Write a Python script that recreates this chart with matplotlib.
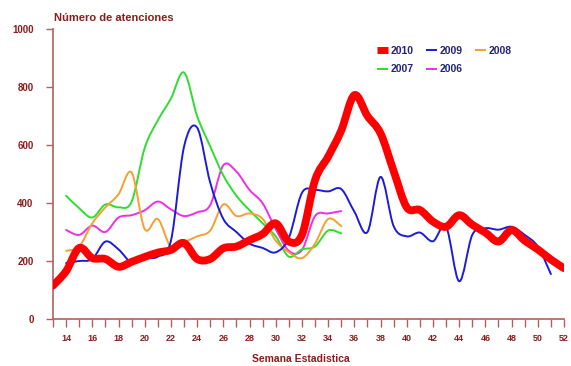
import matplotlib
matplotlib.use("Agg")
import matplotlib.pyplot as plt
from matplotlib.path import Path
from matplotlib.patches import PathPatch
from matplotlib.lines import Line2D

# Weekly attendance counts per season (epidemiological weeks)
weeks_2010 = list(range(13, 53))
cases_2010 = [115, 165, 245, 210, 207, 180, 197, 214, 229, 238,
              262, 207, 207, 244, 250, 272, 293, 330, 267, 290,
              479, 560, 650, 772, 700, 640, 510, 385, 376, 336,
              318, 358, 325, 298, 267, 307, 270, 240, 205, 175]

weeks_2009 = list(range(14, 52))
cases_2009 = [193, 200, 207, 267, 240, 195, 210, 215, 270, 594,
              660, 470, 345, 300, 260, 245, 230, 280, 435, 445,
              440, 448, 370, 300, 490, 320, 285, 298, 268, 318,
              130, 290, 313, 308, 318, 290, 250, 155]

weeks_old = list(range(14, 36))
cases_2008 = [235, 250, 330, 385, 430, 505, 310, 345, 248, 265,
              285, 305, 395, 355, 364, 345, 270, 230, 210, 260,
              345, 320]
cases_2007 = [425, 382, 350, 395, 385, 405, 590, 685, 760, 850,
              700, 595, 495, 425, 375, 330, 285, 215, 240, 250,
              305, 295]
cases_2006 = [307, 290, 322, 300, 350, 358, 375, 405, 378, 355,
              368, 393, 530, 508, 445, 399, 310, 235, 238, 355,
              364, 372]

y_ticks = [0, 200, 400, 600, 800, 1000]
x_tick_labels = list(range(14, 53, 2))

AXIS_RED = "#b06060"
TEXT_RED = "#8a1c1c"
LEGEND_BLUE = "#23237a"


def smooth_path(xs, ys):
    """Cubic Bezier path through the points (spreadsheet-style smoothing)."""
    pts = list(zip(xs, ys))
    verts = [pts[0]]
    codes = [Path.MOVETO]
    n = len(pts)
    for i in range(n - 1):
        p0 = pts[i - 1] if i > 0 else pts[i]
        p1 = pts[i]
        p2 = pts[i + 1]
        p3 = pts[i + 2] if i + 2 < n else pts[i + 1]
        c1 = (p1[0] + (p2[0] - p0[0]) / 6.0, p1[1] + (p2[1] - p0[1]) / 6.0)
        c2 = (p2[0] - (p3[0] - p1[0]) / 6.0, p2[1] - (p3[1] - p1[1]) / 6.0)
        verts += [c1, c2, p2]
        codes += [Path.CURVE4, Path.CURVE4, Path.CURVE4]
    return Path(verts, codes)


fig = plt.figure(figsize=(5.71, 3.66), dpi=100)
ax = fig.add_axes([53 / 571, 47 / 366, 511 / 571, 290 / 366])

series = [
    ("2006", weeks_old, cases_2006, "#ee2fe8", 1.4, 2),
    ("2007", weeks_old, cases_2007, "#2fdc2f", 1.4, 2),
    ("2008", weeks_old, cases_2008, "#f5a030", 1.4, 3),
    ("2009", weeks_2009, cases_2009, "#1c1cd8", 1.4, 4),
    ("2010", weeks_2010, cases_2010, "#ff0000", 5.6, 5),
]
handles = {}
for name, xs, ys, color, lw, z in series:
    patch = PathPatch(smooth_path(xs, ys), facecolor="none", edgecolor=color,
                      linewidth=lw, capstyle="round", joinstyle="round",
                      zorder=z)
    ax.add_patch(patch)
    handles[name] = Line2D([], [], color=color,
                           linewidth=5.0 if name == "2010" else 1.4,
                           solid_capstyle="butt")

ax.set_xlim(13, 52)
ax.set_ylim(0, 1000)

for side in ("top", "right"):
    ax.spines[side].set_visible(False)
for side in ("left", "bottom"):
    ax.spines[side].set_color(AXIS_RED)
    ax.spines[side].set_linewidth(1.2)

ax.set_xticks(range(13, 53))
ax.set_xticklabels([str(w) if w in x_tick_labels else "" for w in range(13, 53)])
ax.set_yticks(y_ticks)
ax.set_yticklabels([str(v) for v in y_ticks])
ax.tick_params(axis="x", direction="out", length=6, width=1, color=AXIS_RED,
               pad=5, labelsize=6.5, labelcolor=TEXT_RED)
ax.tick_params(axis="y", direction="out", length=5, width=1, color=AXIS_RED,
               pad=9, labelsize=7, labelcolor=TEXT_RED)
for lbl in ax.get_xticklabels() + ax.get_yticklabels():
    lbl.set_fontweight("bold")
    lbl.set_fontfamily("Liberation Sans")

fig.text(54 / 571, 1 - 18 / 366, "Número de atenciones", color=TEXT_RED,
         fontsize=8, fontweight="bold", family="Liberation Sans",
         ha="left", va="center")
fig.text(301 / 571, 1 - 359 / 366, "Semana Estadistica", color=TEXT_RED,
         fontsize=7.5, fontweight="bold", family="Liberation Sans",
         ha="center", va="center")

order = ["2010", "2007", "2009", "2006", "2008"]
leg = ax.legend([handles[k] for k in order], order, ncol=3, frameon=False,
                loc="upper left", bbox_to_anchor=(0.616, 0.975),
                handlelength=1.0, handletextpad=0.3, columnspacing=1.2,
                labelspacing=0.85, prop={"family": "Liberation Sans",
                                         "weight": "bold", "size": 7.5})
for t in leg.get_texts():
    t.set_color(LEGEND_BLUE)

fig.savefig("out.png", dpi=100)
